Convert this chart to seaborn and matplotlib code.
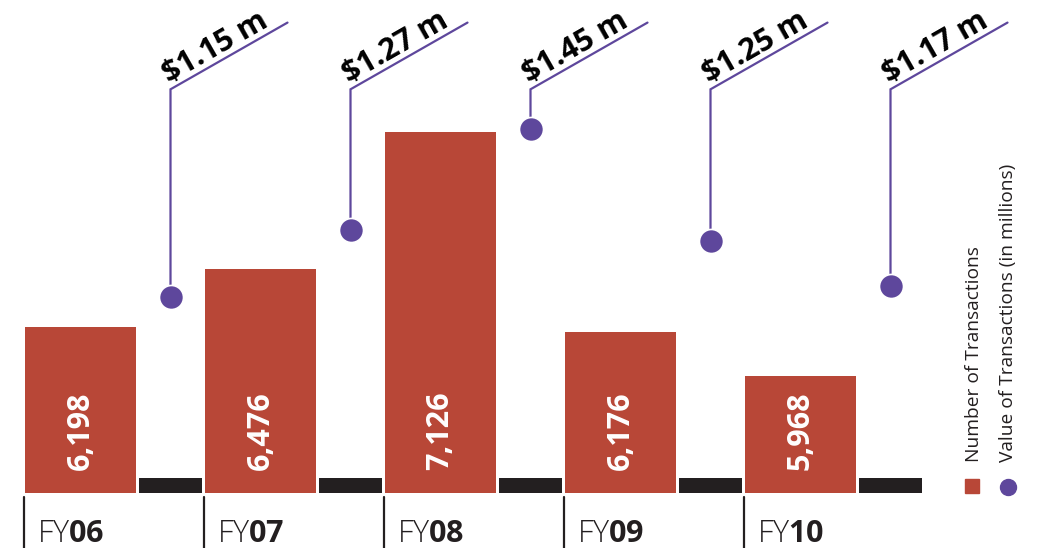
import matplotlib
matplotlib.use("Agg")
import matplotlib.pyplot as plt
from matplotlib.lines import Line2D
import seaborn as sns
import pandas as pd

# Fiscal years, transaction counts and transaction values ($ millions)
years = ["06", "07", "08", "09", "10"]
transactions = [6198, 6476, 7126, 6176, 5968]
value_millions = [1.15, 1.27, 1.45, 1.25, 1.17]

RED = "#B84737"
PURPLE = "#5E479C"
INK = "#231F20"

sns.set_theme(style="white")
plt.rcParams["font.family"] = ["Open Sans", "DejaVu Sans"]
plt.rcParams["mathtext.fontset"] = "custom"
plt.rcParams["mathtext.bf"] = "Open Sans:bold"
plt.rcParams["mathtext.rm"] = "Open Sans"

W, H = 1041, 548
fig = plt.figure(figsize=(W / 100, H / 100), dpi=100)
BASE_PX = 493  # pixel row of the bar baseline
ax = fig.add_axes([0, (H - BASE_PX) / H, 1, BASE_PX / H])

# axis scales
COUNT_LO, COUNT_PER_PX = 5411, 1 / 0.2105
VAL_LO, VAL_PER_PX = 0.80, 1 / 560
count_hi = COUNT_LO + BASE_PX * COUNT_PER_PX
val_hi = VAL_LO + BASE_PX * VAL_PER_PX

df = pd.DataFrame({"year": years, "transactions": transactions,
                   "value": value_millions})
df["pos"] = range(len(df))

# transaction bars
sns.barplot(data=df, x="year", y="transactions", ax=ax, color=RED,
            saturation=1, width=0.6167, linewidth=0)

# dark strips under each value marker
ax.bar(df["pos"] + 0.5, 14.5 * COUNT_PER_PX, bottom=COUNT_LO, width=0.35,
       color=INK, linewidth=0)

for p, n in zip(df["pos"], df["transactions"]):
    ax.annotate(f"{n:,}", xy=(p, COUNT_LO), xytext=(0, 16.5),
                textcoords="offset points", rotation=90, ha="center",
                va="bottom", color="white", fontsize=22, fontweight="bold")

ax.set_ylim(COUNT_LO, count_hi)

# value markers on a second scale
ax2 = ax.twinx()
ax2.set_ylim(VAL_LO, val_hi)
elbow_val = VAL_LO + (BASE_PX - 89.3) * VAL_PER_PX
end_val = VAL_LO + (BASE_PX - 22.6) * VAL_PER_PX
for p, v in zip(df["pos"], df["value"]):
    x = p + 0.5
    ax2.plot([x, x, x + 0.65], [v, elbow_val, end_val], color=PURPLE,
             lw=1.6, solid_joinstyle="miter", zorder=2)
    ax2.annotate(f"${v:.2f} m", xy=(x, elbow_val), xytext=(-1, 4.5),
                 textcoords="offset points", rotation=29.7,
                 rotation_mode="anchor", ha="left", va="baseline",
                 fontsize=22, fontweight="bold", color="black",
                 parse_math=False)
sns.scatterplot(x=df["pos"] + 0.5, y=df["value"], ax=ax2, s=300,
                color=PURPLE, edgecolor="white", linewidth=1.2, zorder=4,
                legend=False)

# category labels and separators
ax.set_xticks([p - 0.2417 for p in df["pos"]],
              labels=[f"FY$\\mathbf{{{y}}}$" for y in years])
ax.tick_params(axis="x", length=0, pad=35.3, labelsize=22, labelcolor=INK)
for lbl in ax.get_xticklabels():
    lbl.set_ha("left")
    lbl.set_va("baseline")
    lbl.set_fontweight("light")
for p in df["pos"]:
    ax.plot([p - 0.314] * 2, [-4 / BASE_PX, -1.2], color=INK, lw=1.6,
            transform=ax.get_xaxis_transform(), clip_on=False)

ax.set_xlim(-80.5 / 180, (W - 80.5) / 180)
for a in (ax, ax2):
    a.set_yticks([])
    a.set_xlabel("")
    a.set_ylabel("")
    for s in a.spines.values():
        s.set_visible(False)

# legend, set vertically at the right
fig.add_artist(Line2D([972 / W], [1 - 486 / H], marker="s", markersize=9.5,
                      color=RED, transform=fig.transFigure))
fig.add_artist(Line2D([1008 / W], [1 - 487 / H], marker="o", markersize=11.5,
                      color=PURPLE, transform=fig.transFigure))
fig.text(974 / W, 1 - 462 / H, "Number of Transactions", rotation=90,
         ha="center", va="bottom", fontsize=13.8, color=INK)
fig.text(1008 / W, 1 - 462 / H, "Value of Transactions (in millions)",
         rotation=90, ha="center", va="bottom", fontsize=13.8, color=INK)

fig.savefig("out.png", dpi=100)
